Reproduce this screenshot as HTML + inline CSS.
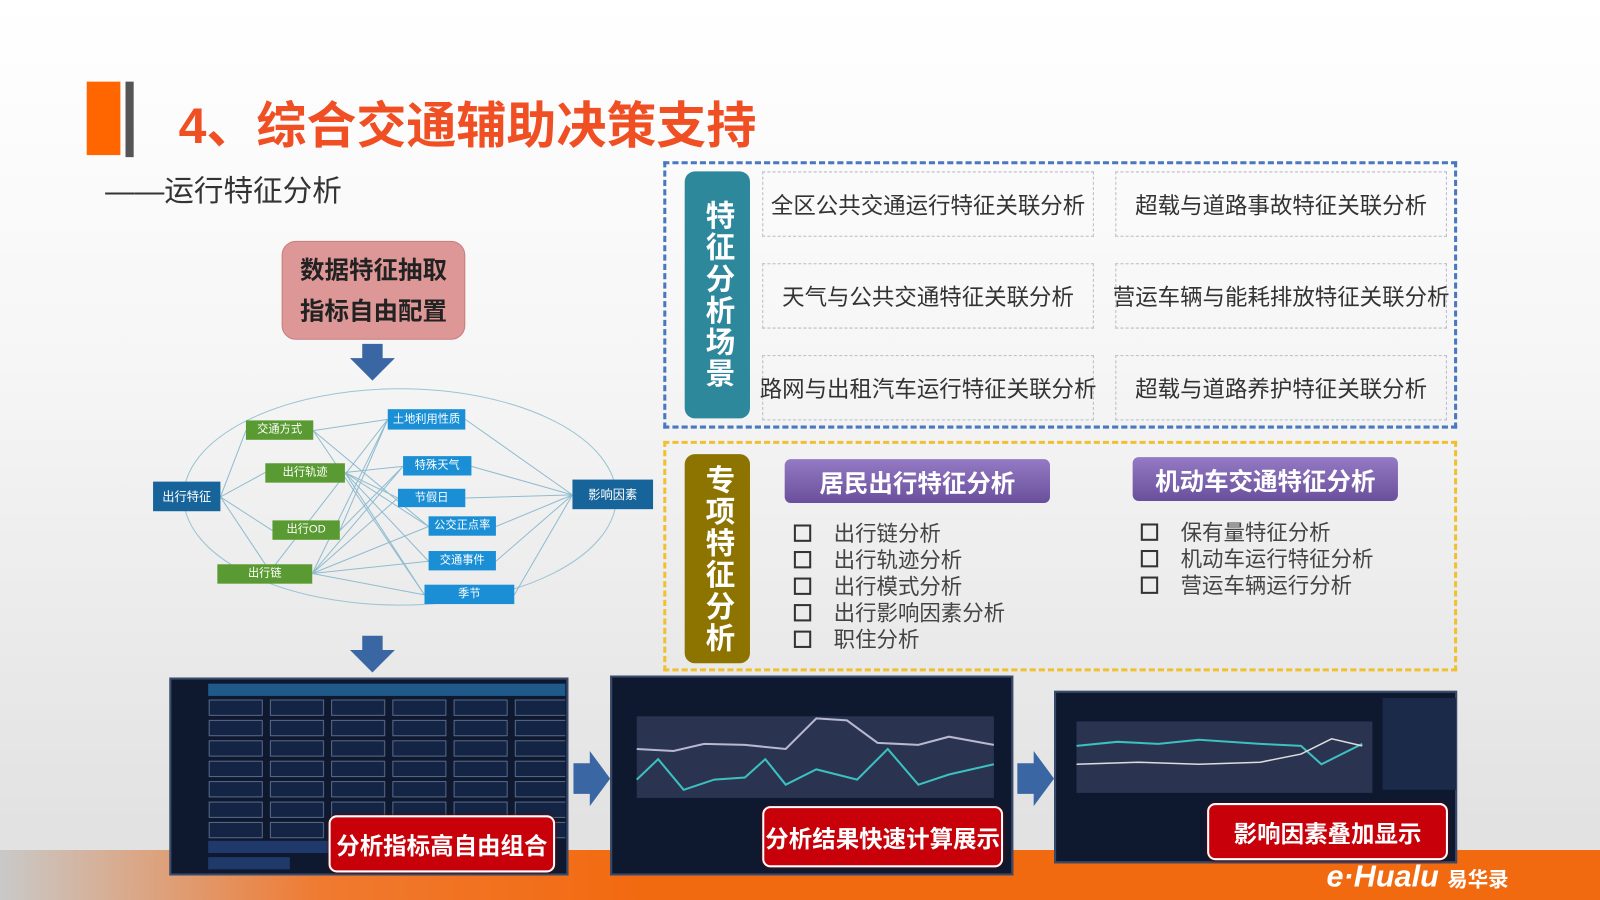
<!DOCTYPE html>
<html><head><meta charset="utf-8"><style>
*{margin:0;padding:0;box-sizing:border-box}
body{width:1600px;height:900px;overflow:hidden;position:relative;font-family:"Liberation Sans","Noto Sans CJK SC",sans-serif;background:linear-gradient(#ffffff 0%,#f6f6f6 40%,#e2e2e2 92%)}
#w{position:absolute;left:0;top:0;width:1568px;height:882px;transform:scale(1.0204);transform-origin:0 0}
.a{position:absolute}
.cell{position:absolute;border:1px dashed #b8bcc8;font-size:22px;color:#333;display:flex;align-items:center;justify-content:center;white-space:nowrap;width:325px;height:64px}
.vl{position:absolute;width:64px;border-radius:10px;color:#fff;font-weight:bold;font-size:29px;writing-mode:vertical-rl;display:flex;align-items:center;justify-content:center;letter-spacing:2px}
.ph{position:absolute;width:260px;height:43px;border-radius:6px;background:linear-gradient(#9479c4,#6a4f9c);color:#fff;font-weight:bold;font-size:24px;display:flex;align-items:center;justify-content:center}
.li{position:absolute;font-size:21px;color:#444;white-space:nowrap}
.li:before{content:"";display:inline-block;width:13px;height:13px;border:2.5px solid #333;margin-right:22px;vertical-align:-1px}
.shot{position:absolute;background:#0e1930;border:2px solid #3a4a6a}
.red{position:absolute;background:#c8000a;border:2px solid #fff;border-radius:8px;color:#fff;font-weight:bold;font-size:23px;display:flex;align-items:center;justify-content:center;box-shadow:0 0 3px #600}
</style></head><body>
<div class="a" style="left:0;top:850px;width:1600px;height:50px;background:linear-gradient(90deg,#c9c9c9 0%,#f07a30 20%,#f26a10 40%,#f26a10 100%)"></div>
<div id="w">
<div class="a" style="left:85px;top:80px;width:33px;height:72px;background:#ff6600"></div>
<div class="a" style="left:123px;top:80px;width:8px;height:74px;background:#555"></div>
<div class="a" style="left:175px;top:84px;font-size:49px;font-weight:bold;color:#f04e23;white-space:nowrap">4、综合交通辅助决策支持</div>
<div class="a" style="left:103px;top:164px;font-size:29px;color:#333;white-space:nowrap">——运行特征分析</div>
<div class="a" style="left:276px;top:236px;width:180px;height:97px;border-radius:14px;background:#de9797;border:1px solid #c97c7c;font-weight:bold;font-size:24px;color:#222;text-align:center;line-height:40px;padding-top:9px">数据特征抽取<br>指标自由配置</div>
<svg class="a" style="left:0;top:0" width="1568" height="882">
<g fill="#3a67a3"><path d="M355 337h20v14h12l-22 22-22-22h12z"/><path d="M355 623h20v14h12l-22 22-22-22h12z"/>
<path d="M562 748h16v-12l20 27-20 27v-12h-16z"/><path d="M997 748h16v-12l20 27-20 27v-12h-16z"/></g>
<ellipse cx="392" cy="487" rx="212" ry="106" fill="none" stroke="#9cc4d4" stroke-width="1"/>
<g stroke="#8fbccf" stroke-width="1" fill="none">
<path d="M216 487L241 422M216 487L260 463M216 487L267 520M216 487L260 553"/>
<path d="M307 422L380 411M307 422L420 516M307 422L416 583"/>
<path d="M338 463L395 457M338 463L420 516M338 463L420 550M338 463L416 583M338 463L390 488"/>
<path d="M333 520L380 411M333 520L395 457"/>
<path d="M306 562L380 411M306 562L395 457M306 562L390 488M306 562L420 516M306 562L420 550M306 562L416 583M270 553L380 411"/>
<path d="M456 411L561 485M462 457L561 485M456 488L561 485M486 516L561 485M486 550L561 485M504 583L561 485"/>
</g>
</svg>
<div class="a" style="left:150px;top:472px;width:66px;height:29px;background:#17649a;color:#fff;font-size:12px;display:flex;align-items:center;justify-content:center">出行特征</div>
<div class="a" style="left:561px;top:470px;width:79px;height:29px;background:#17649a;color:#fff;font-size:12px;display:flex;align-items:center;justify-content:center">影响因素</div>
<div class="a" style="left:241px;top:412px;width:66px;height:19px;background:#5a9a32;color:#fff;font-size:11px;text-align:center;line-height:19px">交通方式</div>
<div class="a" style="left:260px;top:454px;width:78px;height:19px;background:#5a9a32;color:#fff;font-size:11px;text-align:center;line-height:19px">出行轨迹</div>
<div class="a" style="left:267px;top:510px;width:66px;height:19px;background:#5a9a32;color:#fff;font-size:11px;text-align:center;line-height:19px">出行OD</div>
<div class="a" style="left:213px;top:553px;width:93px;height:19px;background:#5a9a32;color:#fff;font-size:11px;text-align:center;line-height:19px">出行链</div>
<div class="a" style="left:380px;top:401px;width:76px;height:20px;background:#1a8fd6;color:#fff;font-size:11px;text-align:center;line-height:20px">土地利用性质</div>
<div class="a" style="left:395px;top:447px;width:67px;height:19px;background:#1a8fd6;color:#fff;font-size:11px;text-align:center;line-height:19px">特殊天气</div>
<div class="a" style="left:390px;top:479px;width:66px;height:18px;background:#1a8fd6;color:#fff;font-size:11px;text-align:center;line-height:18px">节假日</div>
<div class="a" style="left:420px;top:506px;width:66px;height:19px;background:#1a8fd6;color:#fff;font-size:11px;text-align:center;line-height:19px">公交正点率</div>
<div class="a" style="left:420px;top:540px;width:66px;height:19px;background:#1a8fd6;color:#fff;font-size:11px;text-align:center;line-height:19px">交通事件</div>
<div class="a" style="left:416px;top:573px;width:88px;height:19px;background:#1a8fd6;color:#fff;font-size:11px;text-align:center;line-height:19px">季节</div>

<div class="a" style="left:650px;top:158px;width:778px;height:262px;border:3px dashed #4a78c0"></div>
<div class="vl" style="left:671px;top:168px;height:242px;background:#2e889c">特征分析场景</div>
<div class="cell" style="left:747px;top:168px">全区公共交通运行特征关联分析</div>
<div class="cell" style="left:1093px;top:168px">超载与道路事故特征关联分析</div>
<div class="cell" style="left:747px;top:258px">天气与公共交通特征关联分析</div>
<div class="cell" style="left:1093px;top:258px">营运车辆与能耗排放特征关联分析</div>
<div class="cell" style="left:747px;top:348px">路网与出租汽车运行特征关联分析</div>
<div class="cell" style="left:1093px;top:348px">超载与道路养护特征关联分析</div>

<div class="a" style="left:650px;top:432px;width:778px;height:226px;border:3px dashed #f0c030"></div>
<div class="vl" style="left:671px;top:445px;height:205px;background:#8d7400">专项特征分析</div>
<div class="ph" style="left:769px;top:450px">居民出行特征分析</div>
<div class="ph" style="left:1110px;top:448px">机动车交通特征分析</div>
<div class="li" style="left:778px;top:507px">出行链分析</div>
<div class="li" style="left:778px;top:533px">出行轨迹分析</div>
<div class="li" style="left:778px;top:559px">出行模式分析</div>
<div class="li" style="left:778px;top:585px">出行影响因素分析</div>
<div class="li" style="left:778px;top:611px">职住分析</div>
<div class="li" style="left:1118px;top:506px">保有量特征分析</div>
<div class="li" style="left:1118px;top:532px">机动车运行特征分析</div>
<div class="li" style="left:1118px;top:558px">营运车辆运行分析</div>

<div class="shot" style="left:166px;top:664px;width:391px;height:194px">
<svg width="391" height="194">
<defs><pattern id="g" x="36" y="18" width="60" height="20" patternUnits="userSpaceOnUse"><rect x="1" y="2" width="52" height="15" fill="#142444" stroke="#6a7a9a" stroke-width="0.8"/></pattern></defs>
<rect x="36" y="4" width="350" height="12" fill="#1f5a8a"/>
<rect x="36" y="18" width="350" height="140" fill="url(#g)"/>
<rect x="36" y="158" width="150" height="12" fill="#1f3a6a"/>
<rect x="36" y="174" width="80" height="12" fill="#1f3a6a"/>
</svg></div>
<div class="shot" style="left:598px;top:662px;width:395px;height:196px">
<svg width="395" height="196"><rect x="24" y="38" width="350" height="80" fill="#2a3450"/>
<polyline points="24,70 60,72 90,65 130,66 170,70 200,40 230,42 260,64 300,66 330,58 374,66" fill="none" stroke="#b8b8d0" stroke-width="2"/>
<polyline points="24,100 45,80 70,110 100,100 130,98 150,80 170,105 200,90 240,100 270,70 300,105 330,95 374,85" fill="none" stroke="#3cc0c0" stroke-width="2"/></svg></div>
<div class="shot" style="left:1033px;top:677px;width:395px;height:169px">
<svg width="395" height="169"><rect x="20" y="28" width="290" height="70" fill="#2a3450"/>
<polyline points="20,52 60,48 100,50 140,46 200,50 240,52 260,70 300,50" fill="none" stroke="#3cc0c0" stroke-width="2"/>
<polyline points="20,70 80,68 140,70 200,68 240,60 270,45 300,52" fill="none" stroke="#ddd" stroke-width="1.5"/>
<rect x="320" y="5" width="72" height="90" fill="#1a2a48"/></svg></div>
<div class="red" style="left:322px;top:799px;width:222px;height:56px">分析指标高自由组合</div>
<div class="red" style="left:747px;top:790px;width:236px;height:60px">分析结果快速计算展示</div>
<div class="red" style="left:1183px;top:787px;width:236px;height:56px">影响因素叠加显示</div>
<div class="a" style="left:1300px;top:843px;color:#fff;font-weight:bold;font-style:italic;font-size:30px;white-space:nowrap">e·Hualu <span style="font-size:20px;font-style:normal">易华录</span></div>
</div>
</body></html>
